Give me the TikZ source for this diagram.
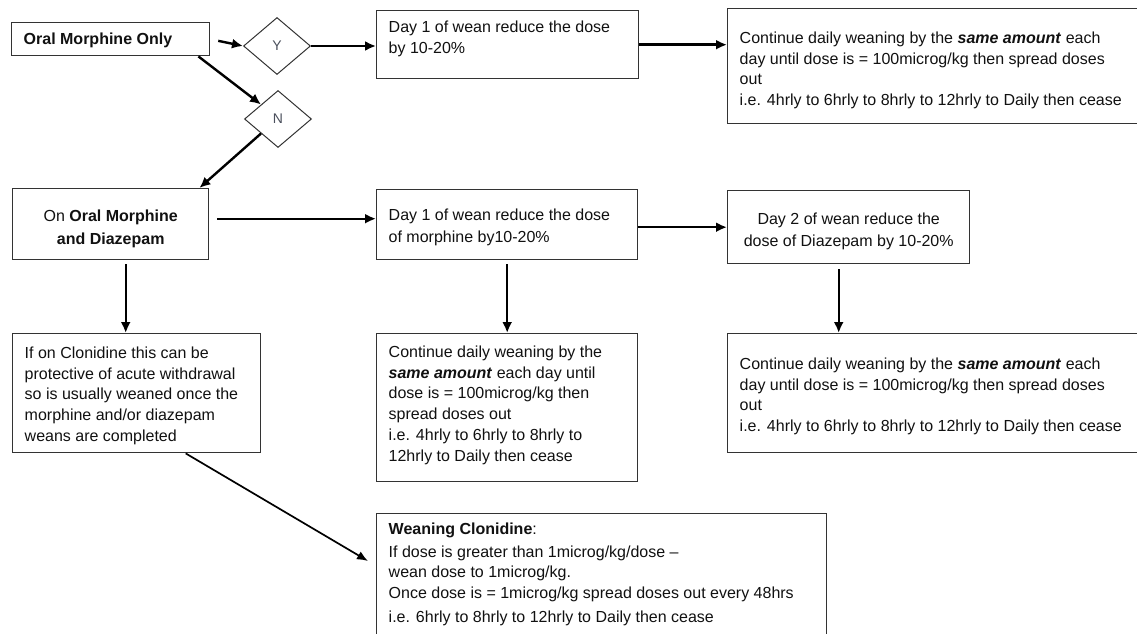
\documentclass[tikz,border=0pt]{standalone}
\usepackage{fontspec}
\setmainfont{Liberation Sans}
\usetikzlibrary{arrows.meta,shapes.geometric}
\definecolor{bord}{HTML}{333333}
\definecolor{txt}{HTML}{111111}
\definecolor{yn}{HTML}{4A4F5C}
% left-aligned box text: width, height, top pad, content
\newcommand{\lbx}[4]{\parbox[c][#2pt][t]{#1pt}{\fontsize{16}{20.8}\selectfont\color{txt}\parindent=0pt\leftskip=12pt\rightskip=0pt plus 1fil\vspace*{#3pt}\strut #4}}
% centered box text
\newcommand{\cbx}[4]{\parbox[c][#2pt][t]{#1pt}{\fontsize{16}{20.8}\selectfont\color{txt}\parindent=0pt\centering\vspace*{#3pt}\strut #4}}
\newcommand{\sa}{\textbf{\textit{same amount}}}
\begin{document}
\begin{tikzpicture}[x=1pt,y=-1pt,
  box/.style={draw=bord,line width=1.4pt,inner sep=0pt,anchor=north west,fill=white},
  dia/.style={diamond,draw=bord,line width=1pt,inner sep=0pt,minimum width=67pt,minimum height=57pt,font=\fontsize{14}{16}\selectfont,text=yn},
  arr/.style={line width=2.4pt,-{Latex[length=11pt,width=10pt]}},
  thinarr/.style={line width=1.7pt,-{Latex[length=11pt,width=9pt]}}
]
\useasboundingbox (0,0) rectangle (1137,634);
% boxes
\node[box] (A) at (11,22) {\lbx{198}{33}{7}{\textbf{Oral Morphine Only}}};
\node[dia] (Y) at (277,46) {Y};
\node[dia] (N) at (278,119) {N};
\node[box] (B) at (376,10) {\lbx{262}{68}{7}{Day 1 of wean reduce the dose\\by 10-20\%}};
\node[box] (C) at (727,8) {\lbx{430}{115}{20}{Continue daily weaning by the \sa{} each\\day until dose is = 100microg/kg then spread doses\\out\\i.e. 4hrly to 6hrly to 8hrly to 12hrly to Daily then cease}};
\node[box] (D) at (12,188) {\cbx{196}{71}{18}{On \textbf{Oral Morphine}\\[2pt]\textbf{and Diazepam}}};
\node[box] (E) at (376,189) {\lbx{261}{70}{16}{Day 1 of wean reduce the dose\\[1pt]of morphine by10-20\%}};
\node[box] (F) at (727,190) {\cbx{242}{73}{19}{Day 2 of wean reduce the\\[1pt]dose of Diazepam by 10-20\%}};
\node[box] (G) at (727,333) {\lbx{430}{119}{21}{Continue daily weaning by the \sa{} each\\day until dose is = 100microg/kg then spread doses\\out\\i.e. 4hrly to 6hrly to 8hrly to 12hrly to Daily then cease}};
\node[box] (H) at (376,333) {\lbx{261}{148}{9}{Continue daily weaning by the\\\sa{} each day until\\dose is = 100microg/kg then\\spread doses out\\i.e. 4hrly to 6hrly to 8hrly to\\12hrly to Daily then cease}};
\node[box] (I) at (12,333) {\lbx{248}{119}{10}{If on Clonidine this can be\\protective of acute withdrawal\\so is usually weaned once the\\morphine and/or diazepam\\weans are completed}};
\node[box] (J) at (376,513) {\lbx{450}{160}{6}{\textbf{Weaning Clonidine}:\\[2pt]If dose is greater than 1microg/kg/dose --\\wean dose to 1microg/kg.\\Once dose is = 1microg/kg spread doses out every 48hrs\\[3pt]i.e. 6hrly to 8hrly to 12hrly to Daily then cease}};
% connectors
\draw[arr,shorten <=8pt] (A.east) -- (Y.west);
\draw[arr] (Y.east) -- (Y.east -| B.west);
\draw[arr,line width=3.2pt] (B.east) -- (B.east -| C.west);
\draw[arr] ([xshift=-12pt]A.south east) -- (N.north west);
\draw[arr] (N.south west) -- ([xshift=-10pt]D.north east);
\draw[arr,shorten <=8pt] ([yshift=5.5pt]D.east) -- ([yshift=5.5pt]D.east -| E.west);
\draw[arr] (E.east |- F.west) -- (F.west);
\draw[arr,shorten <=4pt] (E.south) -- (E.south |- H.north);
\draw[arr,shorten <=5pt] ([xshift=-10pt]F.south) -- ([xshift=-10pt]F.south |- G.north);
\draw[arr,shorten <=4pt] ([xshift=15pt]D.south) -- ([xshift=15pt]D.south |- I.north);
\draw[thinarr] ([xshift=49pt]I.south) -- ([shift={(-8pt,-48pt)}]J.north west);
\end{tikzpicture}
\end{document}
